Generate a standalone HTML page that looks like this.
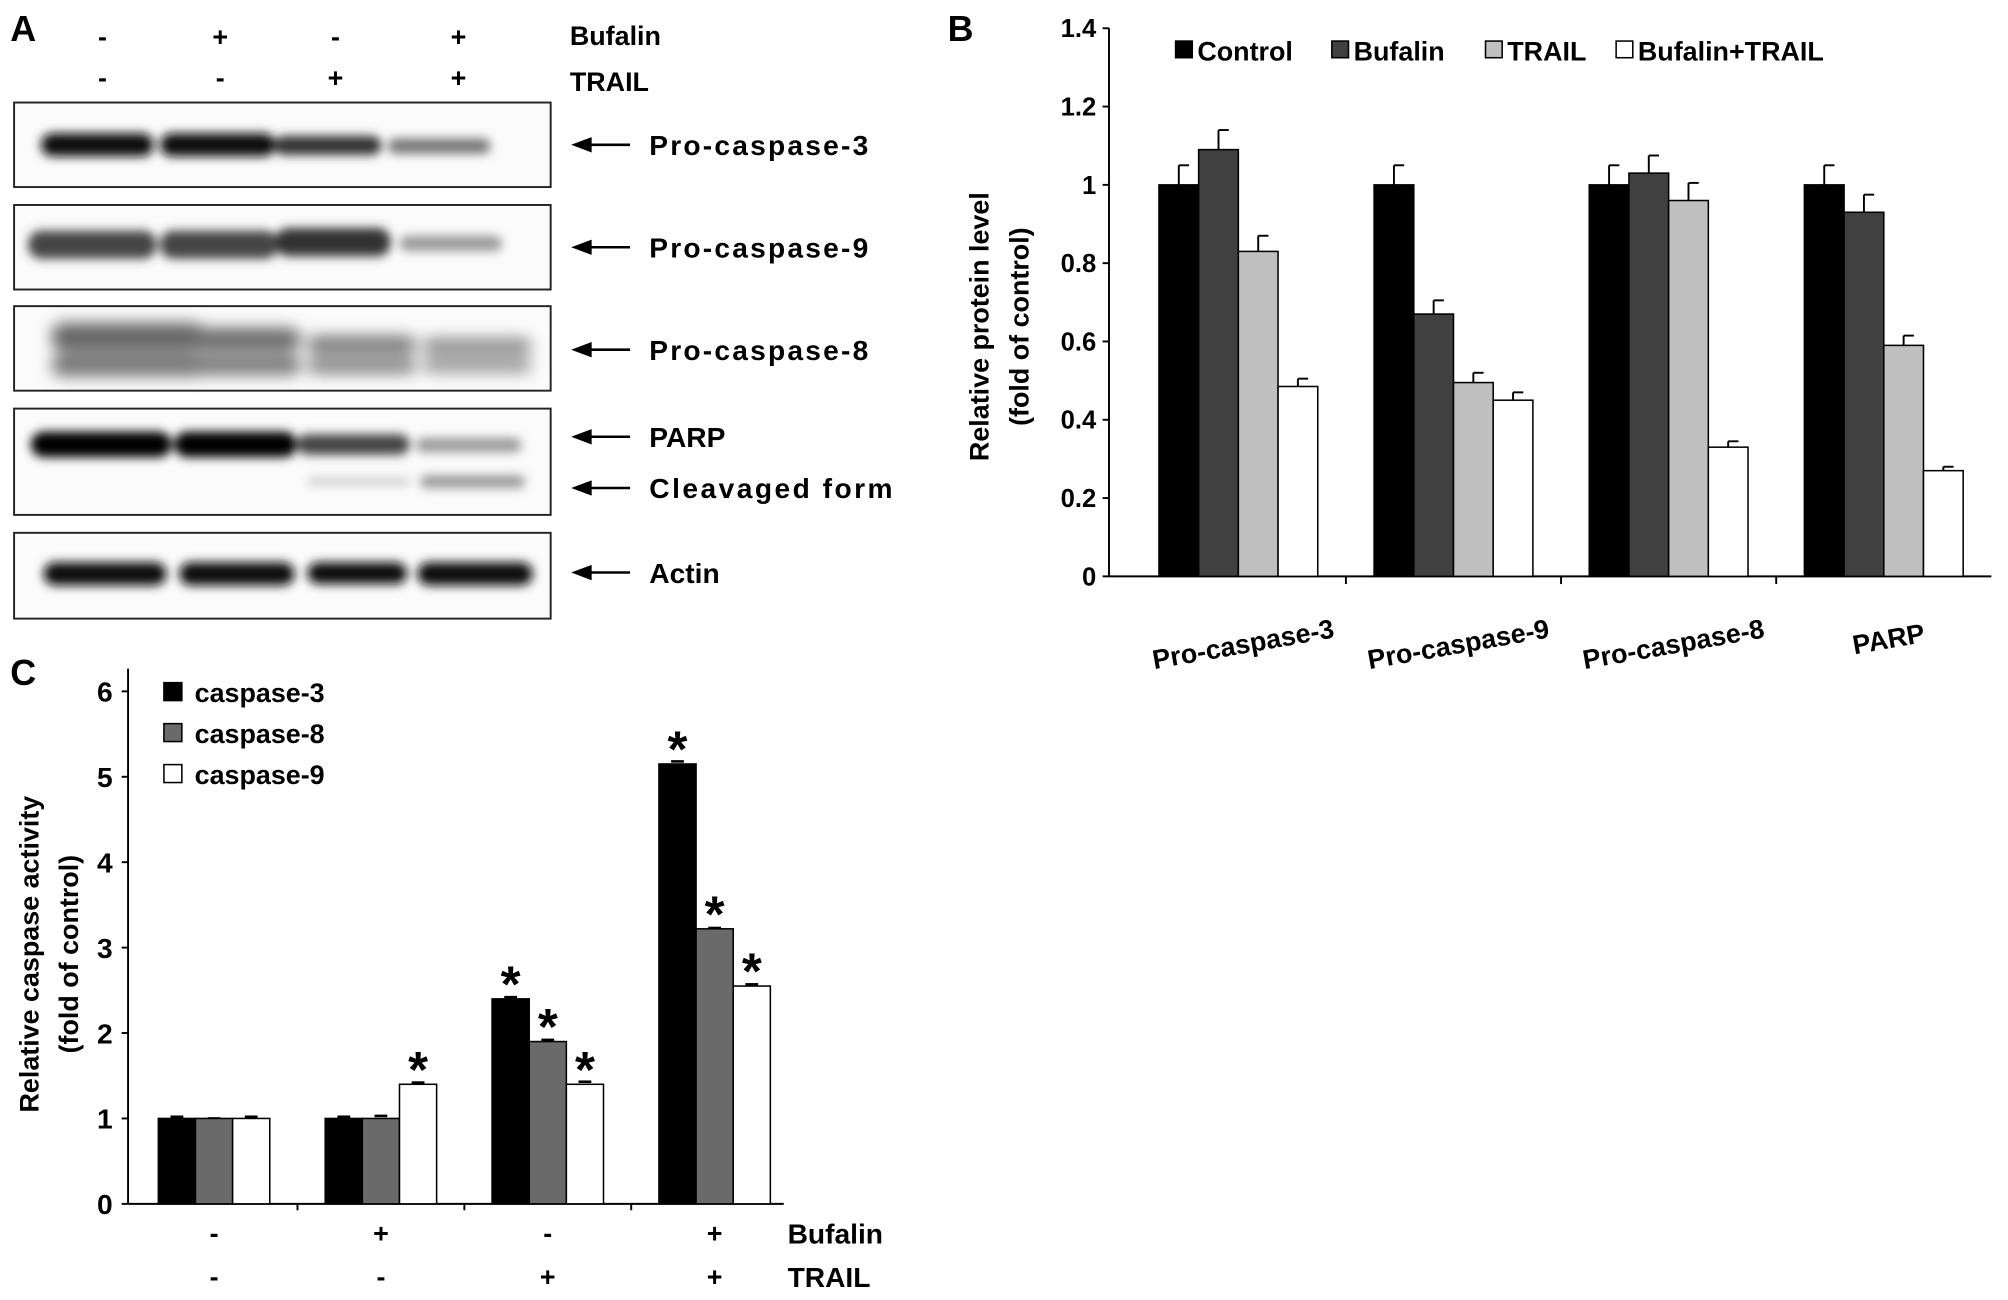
<!DOCTYPE html>
<html><head><meta charset="utf-8"><style>
html,body{margin:0;padding:0;background:#fff;}
svg{display:block;font-family:"Liberation Sans",Arial,sans-serif;font-weight:bold;}
</style></head><body>
<svg id="fig" width="2008" height="1300" viewBox="0 0 1568 1015" xmlns="http://www.w3.org/2000/svg">
<defs>
<filter id="blur" x="-20%" y="-100%" width="140%" height="300%"><feGaussianBlur stdDeviation="4"/></filter>
<filter id="blur2" x="-20%" y="-100%" width="140%" height="300%"><feGaussianBlur stdDeviation="6"/></filter>
</defs>

<!-- Panel A -->
<g>
<text x="8" y="32" font-size="28">A</text>
<g font-size="21" text-anchor="middle">
<text x="80" y="36">-</text>
<text x="172" y="36">+</text>
<text x="262" y="36">-</text>
<text x="358" y="36">+</text>
<text x="80" y="68">-</text>
<text x="172" y="68">-</text>
<text x="262" y="68">+</text>
<text x="358" y="68">+</text>
</g>
<text x="445" y="35" font-size="21">Bufalin</text>
<text x="445" y="71" font-size="21">TRAIL</text>

<g>
<rect x="11" y="80" width="419" height="66" fill="#fbfbfb" stroke="#222" stroke-width="1.5"/>
<g filter="url(#blur)">
<rect x="32" y="104" width="88" height="18" rx="9" fill="#111"/>
<rect x="125" y="104" width="90" height="18" rx="9" fill="#111"/>
<rect x="214" y="106" width="84" height="15" rx="8" fill="#333"/>
<rect x="303" y="108" width="80" height="12" rx="6" fill="#777"/>
</g></g>
<g>
<rect x="11" y="160" width="419" height="66" fill="#fbfbfb" stroke="#222" stroke-width="1.5"/>
<g filter="url(#blur)">
<rect x="22" y="180" width="100" height="22" rx="10" fill="#444"/>
<rect x="125" y="180" width="92" height="22" rx="10" fill="#444"/>
<rect x="215" y="178" width="90" height="22" rx="10" fill="#333"/>
<rect x="312" y="184" width="80" height="12" rx="6" fill="#999"/>
</g></g>
<g>
<rect x="11" y="239" width="419" height="66" fill="#fbfbfb" stroke="#222" stroke-width="1.5"/>
<g filter="url(#blur2)">
<rect x="40" y="252" width="120" height="22" rx="10" fill="#666"/>
<rect x="40" y="276" width="120" height="18" rx="9" fill="#777"/>
<rect x="150" y="256" width="85" height="18" rx="9" fill="#6a6a6a"/>
<rect x="150" y="277" width="85" height="16" rx="8" fill="#7a7a7a"/>
<rect x="240" y="262" width="85" height="14" rx="7" fill="#7a7a7a"/>
<rect x="240" y="279" width="85" height="13" rx="6" fill="#888"/>
<rect x="330" y="264" width="85" height="12" rx="6" fill="#8a8a8a"/>
<rect x="330" y="279" width="85" height="12" rx="6" fill="#999"/>
</g></g>
<g>
<rect x="11" y="319" width="419" height="83" fill="#fbfbfb" stroke="#222" stroke-width="1.5"/>
<g filter="url(#blur)">
<rect x="24" y="337" width="110" height="20" rx="10" fill="#000"/>
<rect x="136" y="337" width="96" height="20" rx="10" fill="#050505"/>
<rect x="232" y="339" width="88" height="16" rx="8" fill="#444"/>
<rect x="325" y="342" width="82" height="11" rx="5" fill="#999"/>
<rect x="240" y="373" width="80" height="6" rx="3" fill="#ccc"/>
<rect x="328" y="371" width="82" height="10" rx="5" fill="#999"/>
</g></g>
<g>
<rect x="11" y="416" width="419" height="67" fill="#fbfbfb" stroke="#222" stroke-width="1.5"/>
<g filter="url(#blur)">
<rect x="34" y="439" width="96" height="18" rx="9" fill="#111"/>
<rect x="140" y="439" width="90" height="18" rx="9" fill="#111"/>
<rect x="240" y="439" width="78" height="17" rx="9" fill="#111"/>
<rect x="326" y="439" width="90" height="18" rx="9" fill="#111"/>
</g></g>

<g stroke="#000" stroke-width="2">
<line x1="492" y1="113" x2="458" y2="113"/><path d="M446,113 L462,107 L462,119 z" fill="#000" stroke="none"/>
<line x1="492" y1="193" x2="458" y2="193"/><path d="M446,193 L462,187 L462,199 z" fill="#000" stroke="none"/>
<line x1="492" y1="273" x2="458" y2="273"/><path d="M446,273 L462,267 L462,279 z" fill="#000" stroke="none"/>
<line x1="492" y1="341" x2="458" y2="341"/><path d="M446,341 L462,335 L462,347 z" fill="#000" stroke="none"/>
<line x1="492" y1="381" x2="458" y2="381"/><path d="M446,381 L462,375 L462,387 z" fill="#000" stroke="none"/>
<line x1="492" y1="447" x2="458" y2="447"/><path d="M446,447 L462,441 L462,453 z" fill="#000" stroke="none"/>
</g>
<g font-size="22">
<text x="507" y="121" textLength="171">Pro-caspase-3</text>
<text x="507" y="201" textLength="171">Pro-caspase-9</text>
<text x="507" y="281" textLength="171">Pro-caspase-8</text>
<text x="507" y="349">PARP</text>
<text x="507" y="389" textLength="190">Cleavaged form</text>
<text x="507" y="455">Actin</text>
</g>
</g>

<g id="panelB"></g>
<g id="panelC"></g>
</svg>

<script>
// Panel B data
const bCategories = ["Pro-caspase-3","Pro-caspase-9","Pro-caspase-8","PARP"];
const bSeriesNames = ["Control","Bufalin","TRAIL","Bufalin+TRAIL"];
const bControl = [1.0, 1.0, 1.0, 1.0];
const bBufalin = [1.09, 0.67, 1.03, 0.93];
const bTrail = [0.83, 0.495, 0.96, 0.59];
const bCombo = [0.485, 0.45, 0.33, 0.27];
const bErrControl = [0.05, 0.05, 0.05, 0.05];
const bErrBufalin = [0.05, 0.035, 0.045, 0.045];
const bErrTrail = [0.04, 0.025, 0.045, 0.025];
const bErrCombo = [0.02, 0.02, 0.015, 0.01];
const bTicks = ["0","0.2","0.4","0.6","0.8","1","1.2","1.4"];

// Panel C data
const cGroups = ["g1","g2","g3","g4"];
const cBufalinSigns = ["-","+","-","+"];
const cTrailSigns = ["-","-","+","+"];
const cSeriesNames = ["caspase-3","caspase-8","caspase-9"];
const cCasp3 = [1.0, 1.0, 2.4, 5.15];
const cCasp8 = [1.0, 1.0, 1.9, 3.22];
const cCasp9 = [1.0, 1.4, 1.4, 2.55];
const cErr3 = [0.02, 0.02, 0.02, 0.03];
const cErr8 = [0.0, 0.03, 0.02, 0.01];
const cErr9 = [0.02, 0.02, 0.03, 0.02];
const cStar3 = [false, false, true, true];
const cStar8 = [false, false, true, true];
const cStar9 = [false, true, true, true];
const cTicks = ["0","1","2","3","4","5","6"];

const NS = "http://www.w3.org/2000/svg";
function mk(parent, tag, attrs, text){
  const e = document.createElementNS(NS, tag);
  for (const k in attrs) e.setAttribute(k, attrs[k]);
  if (text !== undefined) e.textContent = text;
  parent.appendChild(e);
  return e;
}

// ---- Panel B ----
(function(){
  const g = document.getElementById('panelB');
  const x0 = 866, y0 = 450, yTop = 22, xEnd = 1555;
  const yS = v => y0 - v / 1.4 * (y0 - yTop);
  const slot = (xEnd - 883) / 4;
  const center = i => 883 + slot * (i + 0.5);
  const bw = 31;
  let t = mk(g,'text',{x:740,y:32,'font-size':28},'B');
  
  
  mk(g,'line',{x1:x0,y1:yTop,x2:x0,y2:y0,stroke:'#000','stroke-width':1.5});
  mk(g,'line',{x1:x0,y1:y0,x2:xEnd,y2:y0,stroke:'#000','stroke-width':1.5});
  bTicks.forEach((lab) => {
    const v = parseFloat(lab); const y = yS(v);
    mk(g,'line',{x1:x0-5,y1:y,x2:x0,y2:y,stroke:'#000','stroke-width':1.5});
    const tt = mk(g,'text',{x:x0-10,y:y+7,'font-size':20,'text-anchor':'end'},lab);
    
    
  });
  for (let i = 1; i < 4; i++) {
    const x = 883 + slot * i;
    mk(g,'line',{x1:x,y1:y0,x2:x,y2:y0+6,stroke:'#000','stroke-width':1.5});
  }
  const series = [bControl,bBufalin,bTrail,bCombo];
  const errs = [bErrControl,bErrBufalin,bErrTrail,bErrCombo];
  const fills = ['#000','#404040','#c0c0c0','#fff'];
  bCategories.forEach((cat, i) => {
    series.forEach((s, j) => {
      const x = center(i) - 2*bw + j*bw;
      const top = yS(s[i]);
      const et = yS(s[i] + errs[j][i]);
      const cx = x + bw/2;
      mk(g,'line',{x1:cx,y1:top,x2:cx,y2:et,stroke:'#000','stroke-width':1.5});
      mk(g,'line',{x1:cx,y1:et,x2:cx+8,y2:et,stroke:'#000','stroke-width':1.5});
      const r = mk(g,'rect',{x:x,y:top,width:bw,height:y0-top,fill:fills[j],stroke:'#000','stroke-width':1.2});
      
      
    });
    const lx = center(i) + 5, ly = 510 - (i===3?4:0);
    const tl = mk(g,'text',{x:lx,y:ly,'font-size':21,'text-anchor':'middle',transform:`rotate(-10 ${lx} ${ly})`},cat);
    
    
  });
  // legend
  const legX = [918, 1040, 1160, 1262];
  bSeriesNames.forEach((n, j) => {
    const le = mk(g,'g',{});
    
    
    mk(le,'rect',{x:legX[j],y:32,width:13,height:13,fill:fills[j],stroke:'#000','stroke-width':1.2});
    mk(le,'text',{x:legX[j]+17,y:47,'font-size':21},n);
  });
  const yl = mk(g,'text',{x:0,y:0,'font-size':21,'text-anchor':'middle',transform:'translate(772,255) rotate(-90)'},'Relative protein level');
  
  
  const yl2 = mk(g,'text',{x:0,y:0,'font-size':21,'text-anchor':'middle',transform:'translate(803,255) rotate(-90)'},'(fold of control)');
  
  
})();

// ---- Panel C ----
(function(){
  const g = document.getElementById('panelC');
  const x0 = 100, y0 = 940, xEnd = 612;
  const yS = v => y0 - v * 66.7;
  const slot = 130.3;
  const center = i => 102 + slot * (i + 0.5);
  const bw = 29;
  let t = mk(g,'text',{x:8,y:535,'font-size':28},'C');
  
  
  mk(g,'line',{x1:x0,y1:522,x2:x0,y2:y0,stroke:'#000','stroke-width':1.5});
  mk(g,'line',{x1:x0,y1:y0,x2:xEnd,y2:y0,stroke:'#000','stroke-width':1.5});
  cTicks.forEach(lab => {
    const y = yS(parseFloat(lab));
    mk(g,'line',{x1:x0-5,y1:y,x2:x0,y2:y,stroke:'#000','stroke-width':1.5});
    const tt = mk(g,'text',{x:x0-12,y:y+8,'font-size':22,'text-anchor':'end'},lab);
    
    
  });
  for (let i = 1; i < 4; i++) {
    const x = 102 + slot * i;
    mk(g,'line',{x1:x,y1:y0,x2:x,y2:y0+5,stroke:'#000','stroke-width':1.5});
  }
  const series = [cCasp3,cCasp8,cCasp9];
  const errs = [cErr3,cErr8,cErr9];
  const stars = [cStar3,cStar8,cStar9];
  const fills = ['#000','#6a6a6a','#fff'];
  cGroups.forEach((gr, i) => {
    series.forEach((s, j) => {
      const x = center(i) - 1.5*bw + j*bw;
      const top = yS(s[i]);
      const et = yS(s[i] + errs[j][i]);
      mk(g,'line',{x1:x+bw/2-5,y1:et,x2:x+bw/2+5,y2:et,stroke:'#000','stroke-width':2});
      const r = mk(g,'rect',{x:x,y:top,width:bw,height:y0-top,fill:fills[j],stroke:'#000','stroke-width':1.2});
      
      
      if (stars[j][i]) {
        const st = mk(g,'text',{x:x+bw/2,y:top+2,'font-size':40,'text-anchor':'middle'},'*');
        
        
      }
    });
    const b = mk(g,'text',{x:center(i),y:970,'font-size':21,'text-anchor':'middle'},cBufalinSigns[i]);
    
    
    const tr = mk(g,'text',{x:center(i),y:1004,'font-size':21,'text-anchor':'middle'},cTrailSigns[i]);
    
    
  });
  let tb = mk(g,'text',{x:615,y:971,'font-size':22},'Bufalin');
  
  
  let tt2 = mk(g,'text',{x:615,y:1005,'font-size':22},'TRAIL');
  
  
  const legY = [533, 565, 597];
  cSeriesNames.forEach((n, j) => {
    const le = mk(g,'g',{});
    
    
    mk(le,'rect',{x:128,y:legY[j],width:14,height:14,fill:fills[j],stroke:'#000','stroke-width':1.2});
    mk(le,'text',{x:152,y:legY[j]+15,'font-size':21},n);
  });
  const yl = mk(g,'text',{x:0,y:0,'font-size':21,'text-anchor':'middle',transform:'translate(30,745) rotate(-90)'},'Relative caspase activity');
  
  
  const yl2 = mk(g,'text',{x:0,y:0,'font-size':21,'text-anchor':'middle',transform:'translate(61,745) rotate(-90)'},'(fold of control)');
  
  
})();
</script>
</body></html>
